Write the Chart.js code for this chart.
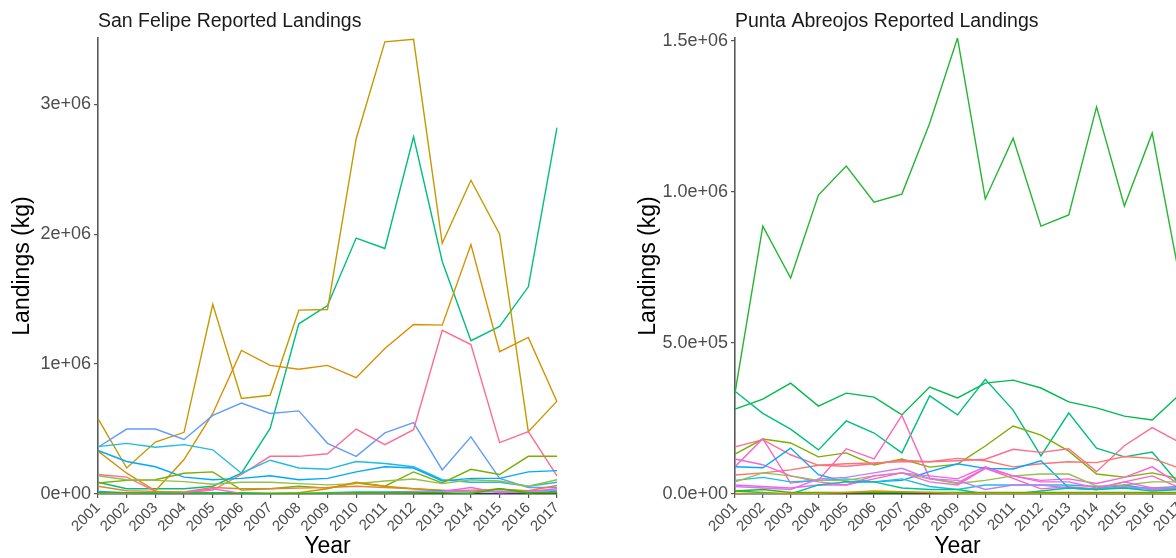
<!DOCTYPE html>
<html>
<head>
<meta charset="utf-8">
<script src="https://cdn.jsdelivr.net/npm/chart.js@4.4.0/dist/chart.umd.min.js"></script>
<style>
  html, body { margin: 0; padding: 0; background: #fff; width: 1176px; height: 558px; overflow: hidden; }
  .panel { position: absolute; top: 0; width: 600px; height: 558px; }
  #left { left: 0; }
  #right { left: 620px; }
</style>
</head>
<body>
<div class="panel" id="left"><canvas id="sanFelipeChart"></canvas></div>
<div class="panel" id="right"><canvas id="abreojosChart"></canvas></div>

<script>
// Years on the x axis
const years = ['2001','2002','2003','2004','2005','2006','2007','2008','2009',
               '2010','2011','2012','2013','2014','2015','2016','2017'];

// San Felipe landings (kg), one array per species line
const sfGold     = [580000, 200000, 400000, 475000, 1460000, 735000, 760000, 1415000, 1420000, 2735000, 3480000, 3500000, 1930000, 2415000, 2000000, 480000, 715000];
const sfOrange   = [330000, 160000, 25000, 265000, 620000, 1105000, 990000, 960000, 990000, 895000, 1120000, 1305000, 1300000, 1920000, 1095000, 1205000, 710000];
const sfTeal     = [90000, 40000, 40000, 40000, 60000, 160000, 505000, 1310000, 1450000, 1970000, 1890000, 2750000, 1790000, 1180000, 1290000, 1595000, 2820000];
const sfSky      = [360000, 500000, 500000, 420000, 605000, 700000, 620000, 640000, 390000, 290000, 470000, 550000, 185000, 440000, 120000, 50000, 50000];
const sfPink     = [150000, 130000, 20000, 10000, 30000, 150000, 290000, 290000, 310000, 500000, 380000, 495000, 1260000, 1150000, 395000, 480000, 140000];
const sfCyan     = [365000, 390000, 360000, 380000, 340000, 160000, 260000, 200000, 190000, 250000, 235000, 210000, 110000, 90000, 90000, 60000, 90000];
const sfBlue     = [335000, 250000, 210000, 130000, 110000, 120000, 140000, 110000, 120000, 170000, 210000, 200000, 100000, 120000, 120000, 170000, 180000];
const sfGreen    = [85000, 105000, 110000, 160000, 170000, 30000, 40000, 60000, 45000, 85000, 60000, 170000, 85000, 190000, 150000, 290000, 290000];
const sfLime     = [140000, 110000, 105000, 95000, 75000, 90000, 90000, 80000, 70000, 80000, 100000, 115000, 80000, 110000, 100000, 60000, 110000];
const sfAmber    = [60000, 25000, 20000, 15000, 50000, 40000, 40000, 45000, 50000, 60000, 50000, 40000, 25000, 30000, 35000, 25000, 65000];
const sfBrown    = [0, 0, 0, 0, 0, 5000, 5000, 10000, 40000, 90000, 60000, 40000, 30000, 20000, 40000, 20000, 30000];
const sfMagenta  = [5000, 5000, 5000, 10000, 40000, 5000, 0, 0, 5000, 10000, 10000, 10000, 20000, 50000, 10000, 20000, 40000];
const sfPurple   = [0, 0, 0, 0, 0, 0, 0, 0, 0, 10000, 10000, 15000, 20000, 20000, 15000, 20000, 30000];
const sfAqua     = [20000, 10000, 10000, 10000, 10000, 10000, 5000, 5000, 10000, 15000, 15000, 20000, 25000, 15000, 20000, 10000, 20000];
const sfLeaf     = [10000, 10000, 5000, 5000, 5000, 5000, 5000, 5000, 5000, 10000, 10000, 10000, 10000, 5000, 40000, 10000, 10000];

// Punta Abreojos landings (kg)
const paGreen    = [335000, 887000, 715000, 990000, 1086000, 966000, 993000, 1228000, 1510000, 977000, 1178000, 887000, 924000, 1282000, 954000, 1195000, 710000];
const paEmerald  = [281000, 314000, 367000, 291000, 334000, 321000, 262000, 354000, 318000, 367000, 377000, 351000, 305000, 285000, 258000, 245000, 330000];
const paTeal     = [340000, 267000, 215000, 146000, 242000, 202000, 136000, 325000, 262000, 380000, 278000, 126000, 268000, 152000, 123000, 139000, 30000];
const paOlive    = [132000, 182000, 169000, 123000, 136000, 96000, 116000, 89000, 99000, 159000, 225000, 195000, 142000, 66000, 56000, 70000, 50000];
const paPink     = [156000, 180000, 130000, 95000, 92000, 100000, 112000, 107000, 110000, 115000, 148000, 138000, 150000, 74000, 160000, 220000, 170000];
const paSalmon   = [63000, 70000, 80000, 95000, 100000, 103000, 107000, 107000, 118000, 110000, 90000, 100000, 107000, 104000, 124000, 118000, 85000];
const paRose     = [90000, 183000, 36000, 46000, 150000, 116000, 260000, 52000, 37000, 85000, 52000, 17000, 24000, 17000, 40000, 60000, 20000];
const paCoral    = [116000, 97000, 60000, 40000, 30000, 50000, 70000, 60000, 50000, 90000, 60000, 45000, 50000, 35000, 55000, 90000, 30000];
const paBlue     = [90000, 87000, 152000, 64000, 40000, 40000, 45000, 74000, 100000, 85000, 83000, 110000, 20000, 15000, 30000, 15000, 20000];
const paCyan     = [45000, 55000, 40000, 45000, 50000, 40000, 50000, 25000, 15000, 30000, 30000, 30000, 30000, 25000, 20000, 20000, 25000];
const paLime     = [40000, 70000, 60000, 45000, 45000, 60000, 70000, 50000, 35000, 45000, 60000, 66000, 66000, 26000, 30000, 40000, 40000];
const paPurple   = [25000, 20000, 15000, 50000, 55000, 70000, 85000, 50000, 45000, 15000, 30000, 30000, 20000, 15000, 25000, 15000, 15000];
const paMagenta  = [30000, 25000, 20000, 30000, 30000, 60000, 70000, 40000, 30000, 85000, 60000, 40000, 40000, 20000, 40000, 20000, 20000];
const paAqua     = [10000, 5000, 0, 30000, 40000, 40000, 20000, 15000, 15000, 0, 0, 10000, 20000, 15000, 20000, 10000, 15000];
const paGold     = [2000, 2000, 2000, 2000, 5000, 10000, 8000, 5000, 2000, 2000, 2000, 2000, 2000, 2000, 2000, 2000, 2000];
const paLeaf     = [10000, 15000, 5000, 5000, 5000, 5000, 5000, 5000, 5000, 5000, 5000, 5000, 5000, 5000, 5000, 5000, 5000];

// y axis ticks
const sfTicks = [0, 1000000, 2000000, 3000000];
const paTicks = [0, 500000, 1000000, 1500000];

// series + colours per panel
const sfSeries = [sfLeaf, sfPurple, sfMagenta, sfAqua, sfBrown, sfAmber, sfLime, sfGreen, sfBlue, sfCyan, sfPink, sfSky, sfOrange, sfGold, sfTeal];
const sfColors = ['#39B600', '#C77CFF', '#F564E3', '#00C1A3', '#D89000', '#EA8331', '#93C047', '#7CAE00', '#00A9FF', '#1FBCE0', '#FF6C91', '#619CFF', '#D89000', '#C49A00', '#00BF7D'];
const paSeries = [paGold, paLeaf, paAqua, paMagenta, paPurple, paLime, paCyan, paBlue, paCoral, paRose, paSalmon, paPink, paOlive, paTeal, paEmerald, paGreen];
const paColors = ['#C49A00', '#39B600', '#00C1A3', '#F564E3', '#C77CFF', '#93C047', '#1FBCE0', '#00A9FF', '#FA62DB', '#FF62BC', '#F8766D', '#FF6C91', '#7CAE00', '#00BF7D', '#00BB4E', '#24B630'];

Chart.defaults.font.family = '"Liberation Sans", Arial, sans-serif';
Chart.defaults.animation = false;

// ggplot-style scientific labels: 3e+06, 5.0e+05
function sci(v, digits) {
  const parts = v.toExponential(digits).split('e');
  const n = parseInt(parts[1], 10);
  return parts[0] + 'e' + (n < 0 ? '-' : '+') + String(Math.abs(n)).padStart(2, '0');
}

// draws the panel title left-aligned with the plot area
const panelTitle = {
  id: 'panelTitle',
  afterDraw(chart, args, opts) {
    const ctx = chart.ctx;
    ctx.save();
    ctx.font = '19.5px "Liberation Sans", Arial, sans-serif';
    ctx.fillStyle = '#1a1a1a';
    ctx.textBaseline = 'alphabetic';
    ctx.textAlign = 'left';
    ctx.fillText(opts.text, chart.chartArea.left, 27);
    ctx.restore();
  }
};

function makePanel(canvasId, title, series, colors, ticks, yMax, digits, yAxisWidth, rightPad, yTitlePad) {
  new Chart(document.getElementById(canvasId), {
    type: 'line',
    data: {
      labels: years,
      datasets: series.map((s, i) => ({
        data: s,
        borderColor: colors[i],
        borderWidth: 1.4,
        pointRadius: 0,
        tension: 0,
        fill: false
      }))
    },
    options: {
      responsive: true,
      maintainAspectRatio: false,
      layout: { padding: { top: 38, right: rightPad, left: 0, bottom: 0 } },
      plugins: {
        legend: { display: false },
        tooltip: { enabled: false },
        panelTitle: { text: title }
      },
      scales: {
        x: {
          offset: false,
          afterFit: scale => { scale.height = 64; },
          border: { display: true, color: '#3a3a3a', width: 1.6 },
          grid: { drawOnChartArea: false, drawTicks: true, tickLength: 4, color: '#555', lineWidth: 1.2 },
          ticks: {
            autoSkip: false,
            maxRotation: 45,
            minRotation: 45,
            padding: 1,
            color: '#4d4d4d',
            font: { size: 15 }
          },
          title: {
            display: true,
            text: 'Year',
            color: '#000',
            font: { size: 23, lineHeight: 1 },
            padding: { top: 0, bottom: 0 }
          }
        },
        y: {
          min: 0,
          max: yMax,
          afterFit: scale => { scale.width = yAxisWidth; },
          afterBuildTicks: scale => { scale.ticks = ticks.map(v => ({ value: v })); },
          border: { display: true, color: '#5a5a5a', width: 1.6 },
          grid: { drawOnChartArea: false, drawTicks: true, tickLength: 4, color: '#555', lineWidth: 1.2 },
          ticks: {
            padding: 3,
            color: '#4d4d4d',
            font: { size: 18 },
            callback: v => sci(v, digits)
          },
          title: {
            display: true,
            text: 'Landings (kg)',
            color: '#000',
            font: { size: 23, lineHeight: 1 },
            padding: { top: yTitlePad, bottom: 0 }
          }
        }
      }
    },
    plugins: [panelTitle]
  });
}

makePanel('sanFelipeChart', 'San Felipe Reported Landings', sfSeries, sfColors, sfTicks, 3510000, 0, 98, 43, 11);
makePanel('abreojosChart', 'Punta Abreojos Reported Landings', paSeries, paColors, paTicks, 1510000, 1, 115, 40, 17);
</script>
</body>
</html>
